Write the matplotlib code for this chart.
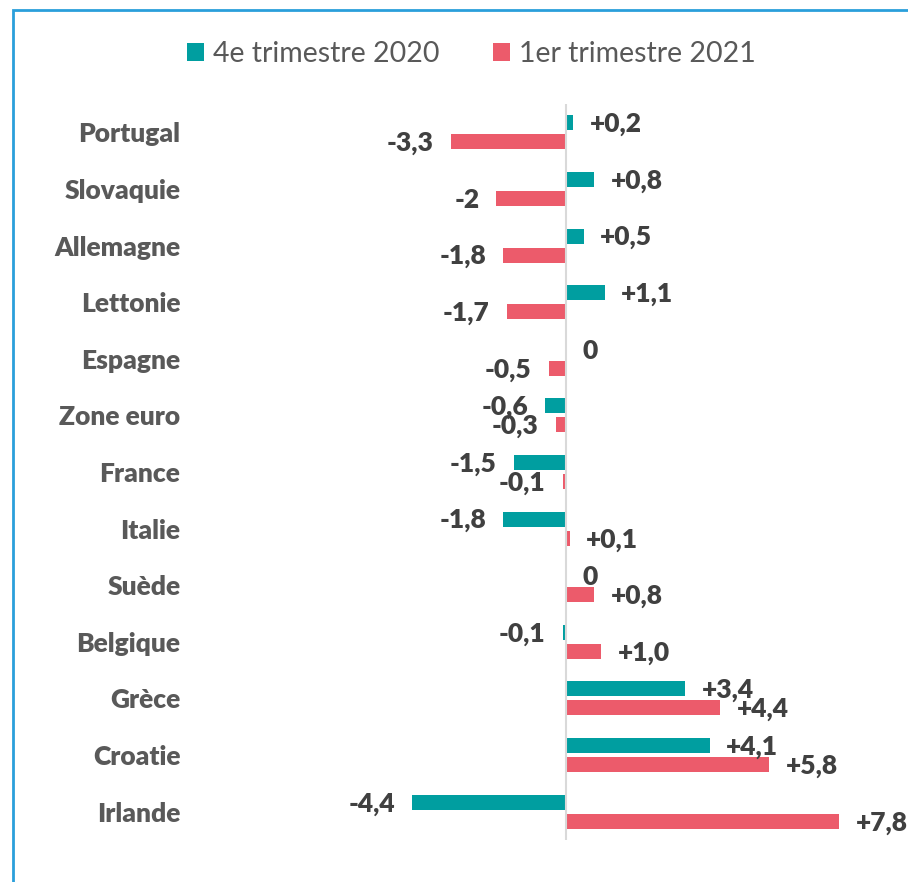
import matplotlib.pyplot as plt
import matplotlib.patches as mpatches
import numpy as np

# données (variation du PIB, en %)
countries = ['Portugal', 'Slovaquie', 'Allemagne', 'Lettonie', 'Espagne', 'Zone euro',
             'France', 'Italie', 'Suède', 'Belgique', 'Grèce', 'Croatie', 'Irlande']
q4_2020 = [0.2, 0.8, 0.5, 1.1, 0, -0.6, -1.5, -1.8, 0, -0.1, 3.4, 4.1, -4.4]
q1_2021 = [-3.3, -2, -1.8, -1.7, -0.5, -0.3, -0.1, 0.1, 0.8, 1.0, 4.4, 5.8, 7.8]
q4_labels = ['+0,2', '+0,8', '+0,5', '+1,1', '0', '-0,6', '-1,5', '-1,8', '0', '-0,1',
             '+3,4', '+4,1', '-4,4']
q1_labels = ['-3,3', '-2', '-1,8', '-1,7', '-0,5', '-0,3', '-0,1', '+0,1', '+0,8', '+1,0',
             '+4,4', '+5,8', '+7,8']
series_names = ['4e trimestre 2020', '1er trimestre 2021']

TEAL = '#009EA0'
RED = '#EC5B6B'
DARK = '#404040'
GREY = '#595959'

plt.rcParams['font.family'] = ['Lato', 'DejaVu Sans']

W, H = 908, 882
fig = plt.figure(figsize=(W / 100, H / 100), dpi=100)

# cadre bleu
fig.patches.append(mpatches.Rectangle((13 / W, -0.1), 1.2, (H - 10) / H + 0.1,
                                      transform=fig.transFigure, fill=False,
                                      edgecolor='#2A9FDB', linewidth=2))

ax = fig.add_axes([190 / W, (H - 840) / H, (W - 190) / W, (840 - 104) / H])

y = np.arange(len(countries))
h = 0.265
off = 0.168
ax.barh(y - off, q4_2020, height=h, color=TEAL, label=series_names[0])
ax.barh(y + off, q1_2021, height=h, color=RED, label=series_names[1])

ax.set_ylim(len(countries) - 0.5, -0.5)
ax.set_xlim((190 - 566) / 35, (908 - 566) / 35)
ax.axvline(0, color='#D9D9D9', linewidth=1.5)

for vals, labels, dy in [(q4_2020, q4_labels, -off), (q1_2021, q1_labels, off)]:
    for i, (v, lab) in enumerate(zip(vals, labels)):
        if lab.startswith('-'):
            ax.annotate(lab, (v, i + dy), xytext=(-12, -1), textcoords='offset points',
                        ha='right', va='center', fontsize=19, fontweight='heavy', color=DARK)
        else:
            ax.annotate(lab, (v, i + dy), xytext=(12, -1), textcoords='offset points',
                        ha='left', va='center', fontsize=19, fontweight='heavy', color=DARK)

ax.set_yticks(y)
ax.set_yticklabels(countries, fontsize=19, fontweight='heavy', color=GREY)
ax.tick_params(axis='y', length=0, pad=7)
ax.set_xticks([])
for s in ax.spines.values():
    s.set_visible(False)
ax.patch.set_alpha(0)

fig.legend(loc='center', bbox_to_anchor=(0.519, 1 - 54 / H), ncol=2, frameon=False,
           fontsize=20.5, handlelength=0.6, handleheight=0.6, handletextpad=0.3,
           columnspacing=1.9, labelcolor=GREY)

fig.savefig('out.png', dpi=100)
